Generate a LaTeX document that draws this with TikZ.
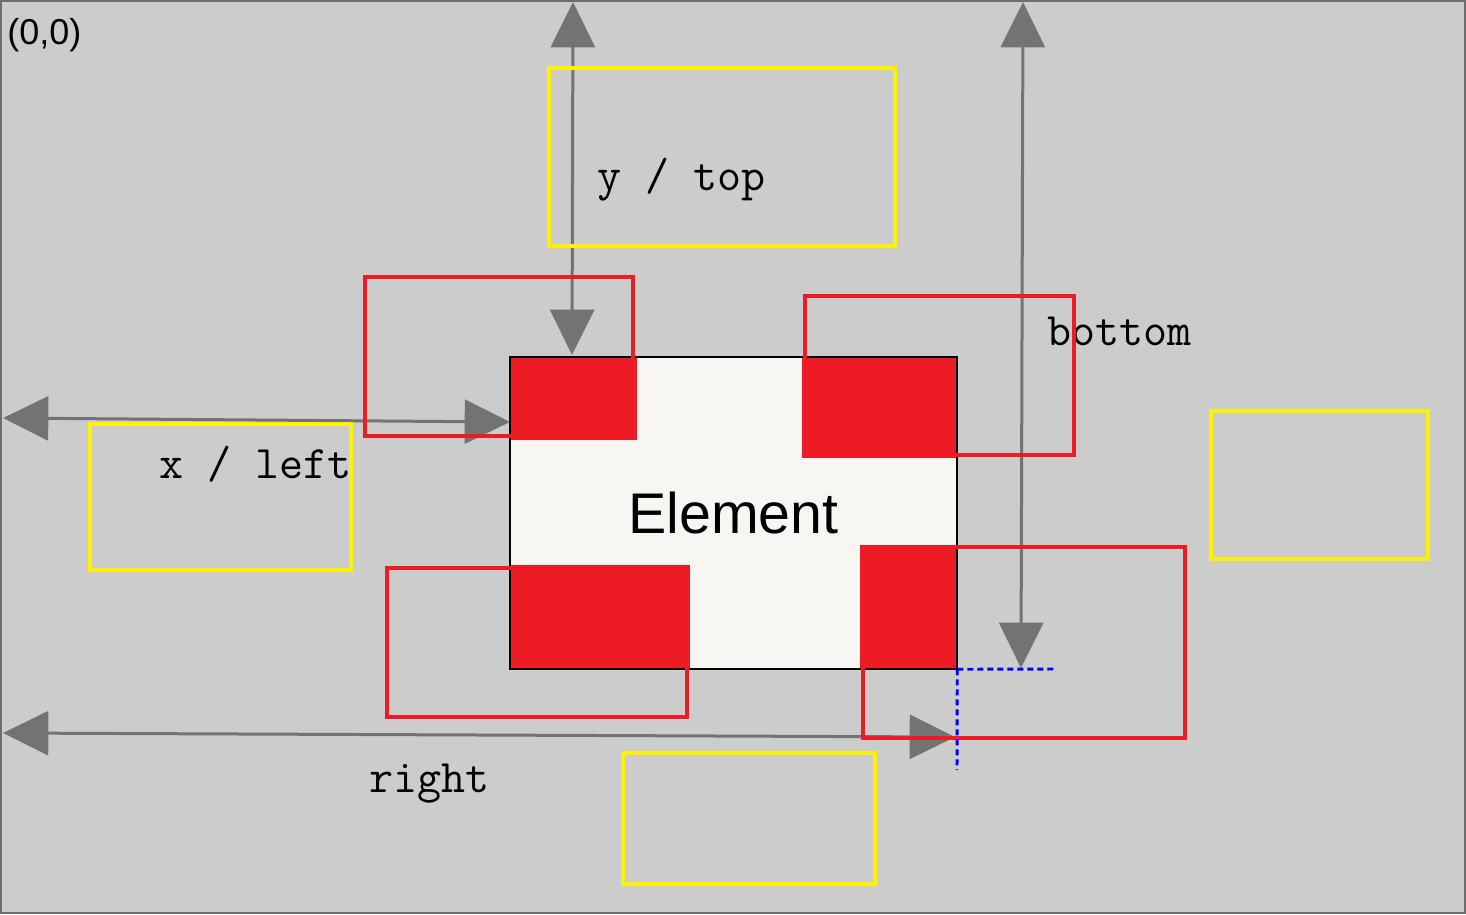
\documentclass[tikz,border=0pt]{standalone}
\usepackage{fontspec}
\setmainfont{Liberation Sans}
\usetikzlibrary{arrows.meta,positioning}
\definecolor{canvasgrey}{RGB}{204,204,204}
\definecolor{framegrey}{RGB}{110,110,110}
\definecolor{arrowgrey}{RGB}{115,115,115}
\definecolor{boxred}{RGB}{237,28,36}
\definecolor{boxyellow}{RGB}{255,242,0}
\definecolor{elemfill}{RGB}{248,246,242}
\tikzset{
  canvas/.style={draw=framegrey,fill=canvasgrey,line width=1.5pt},
  elembox/.style={fill=elemfill,minimum width=335.25pt,minimum height=234pt,
                  inner sep=0pt,font=\fontsize{43}{50}\selectfont},
  elemedge/.style={draw=black,line width=1.6pt},
  hitred/.style={fill=boxred},
  outred/.style={draw=boxred,line width=3.2pt},
  outyellow/.style={draw=boxyellow,line width=3.2pt},
  dimarrow/.style={{Triangle[length=34pt,width=33pt]}-{Triangle[length=34pt,width=33pt]},
                   draw=arrowgrey,line width=2.25pt},
  dimlabel/.style={anchor=base west,inner sep=0pt,font=\ttfamily\fontsize{35}{40}\selectfont},
  guide/.style={draw=blue,line width=2.2pt,dash pattern=on 4.5pt off 3pt},
}

\begin{document}
\begin{tikzpicture}[x=0.75pt,y=-0.75pt]
  \useasboundingbox (0,0) rectangle (1466,914);
  \draw[canvas] (1,1) rectangle (1465,913);
  \node[anchor=base west,inner sep=0pt,font=\fontsize{27}{32}\selectfont] (origin) at (7,44) {(0,0)};

  \node[elembox] (elem) at (733.5,513) {Element};
  \foreach \a/\b/\c/\d in {510/357/637/440,802/357/957/458,510/565/690/669,860/545/957/669}
    {\fill[hitred] (\a,\b) rectangle (\c,\d);}
  \draw[elemedge] (elem.north west) rectangle (elem.south east);

  \coordinate (ytop) at (573,2);    \coordinate (ybot) at (572,355);
  \coordinate (btop) at (1023,2);   \coordinate (bbot) at (1021,668);
  \coordinate (xbeg) at (3,418);    \coordinate (xend) at (510,422);
  \coordinate (rbeg) at (3,733);    \coordinate (rend) at (955,737);
  \foreach \p/\q in {ytop/ybot,btop/bbot,xbeg/xend,rbeg/rend}
    {\draw[dimarrow] (\p) -- (\q);}

  \foreach \a/\b/\c/\d in {549/68/895/246,90/424/351/570,1211/411/1428/559,623/753/875/884}
    {\draw[outyellow] (\a,\b) rectangle (\c,\d);}

  \node[dimlabel] (toplbl)    at (597,190)  {y / top};
  \node[dimlabel] (leftlbl)   at (159,478)  {x / left};
  \node[dimlabel] (bottomlbl) at (1047,345) {bottom};
  \node[dimlabel] (rightlbl)  at (369,792)  {right};

  \foreach \a/\b/\c/\d in {365/277/633/436,805/296/1074/455,387/568/687/717,863/547/1185/738}
    {\draw[outred] (\a,\b) rectangle (\c,\d);}

  \coordinate (gx) at (1057,669);
  \coordinate (gy) at (957,770);
  \draw[guide] (elem.south east) -- (gx);
  \draw[guide] (elem.south east) -- (gy);
\end{tikzpicture}
\end{document}
